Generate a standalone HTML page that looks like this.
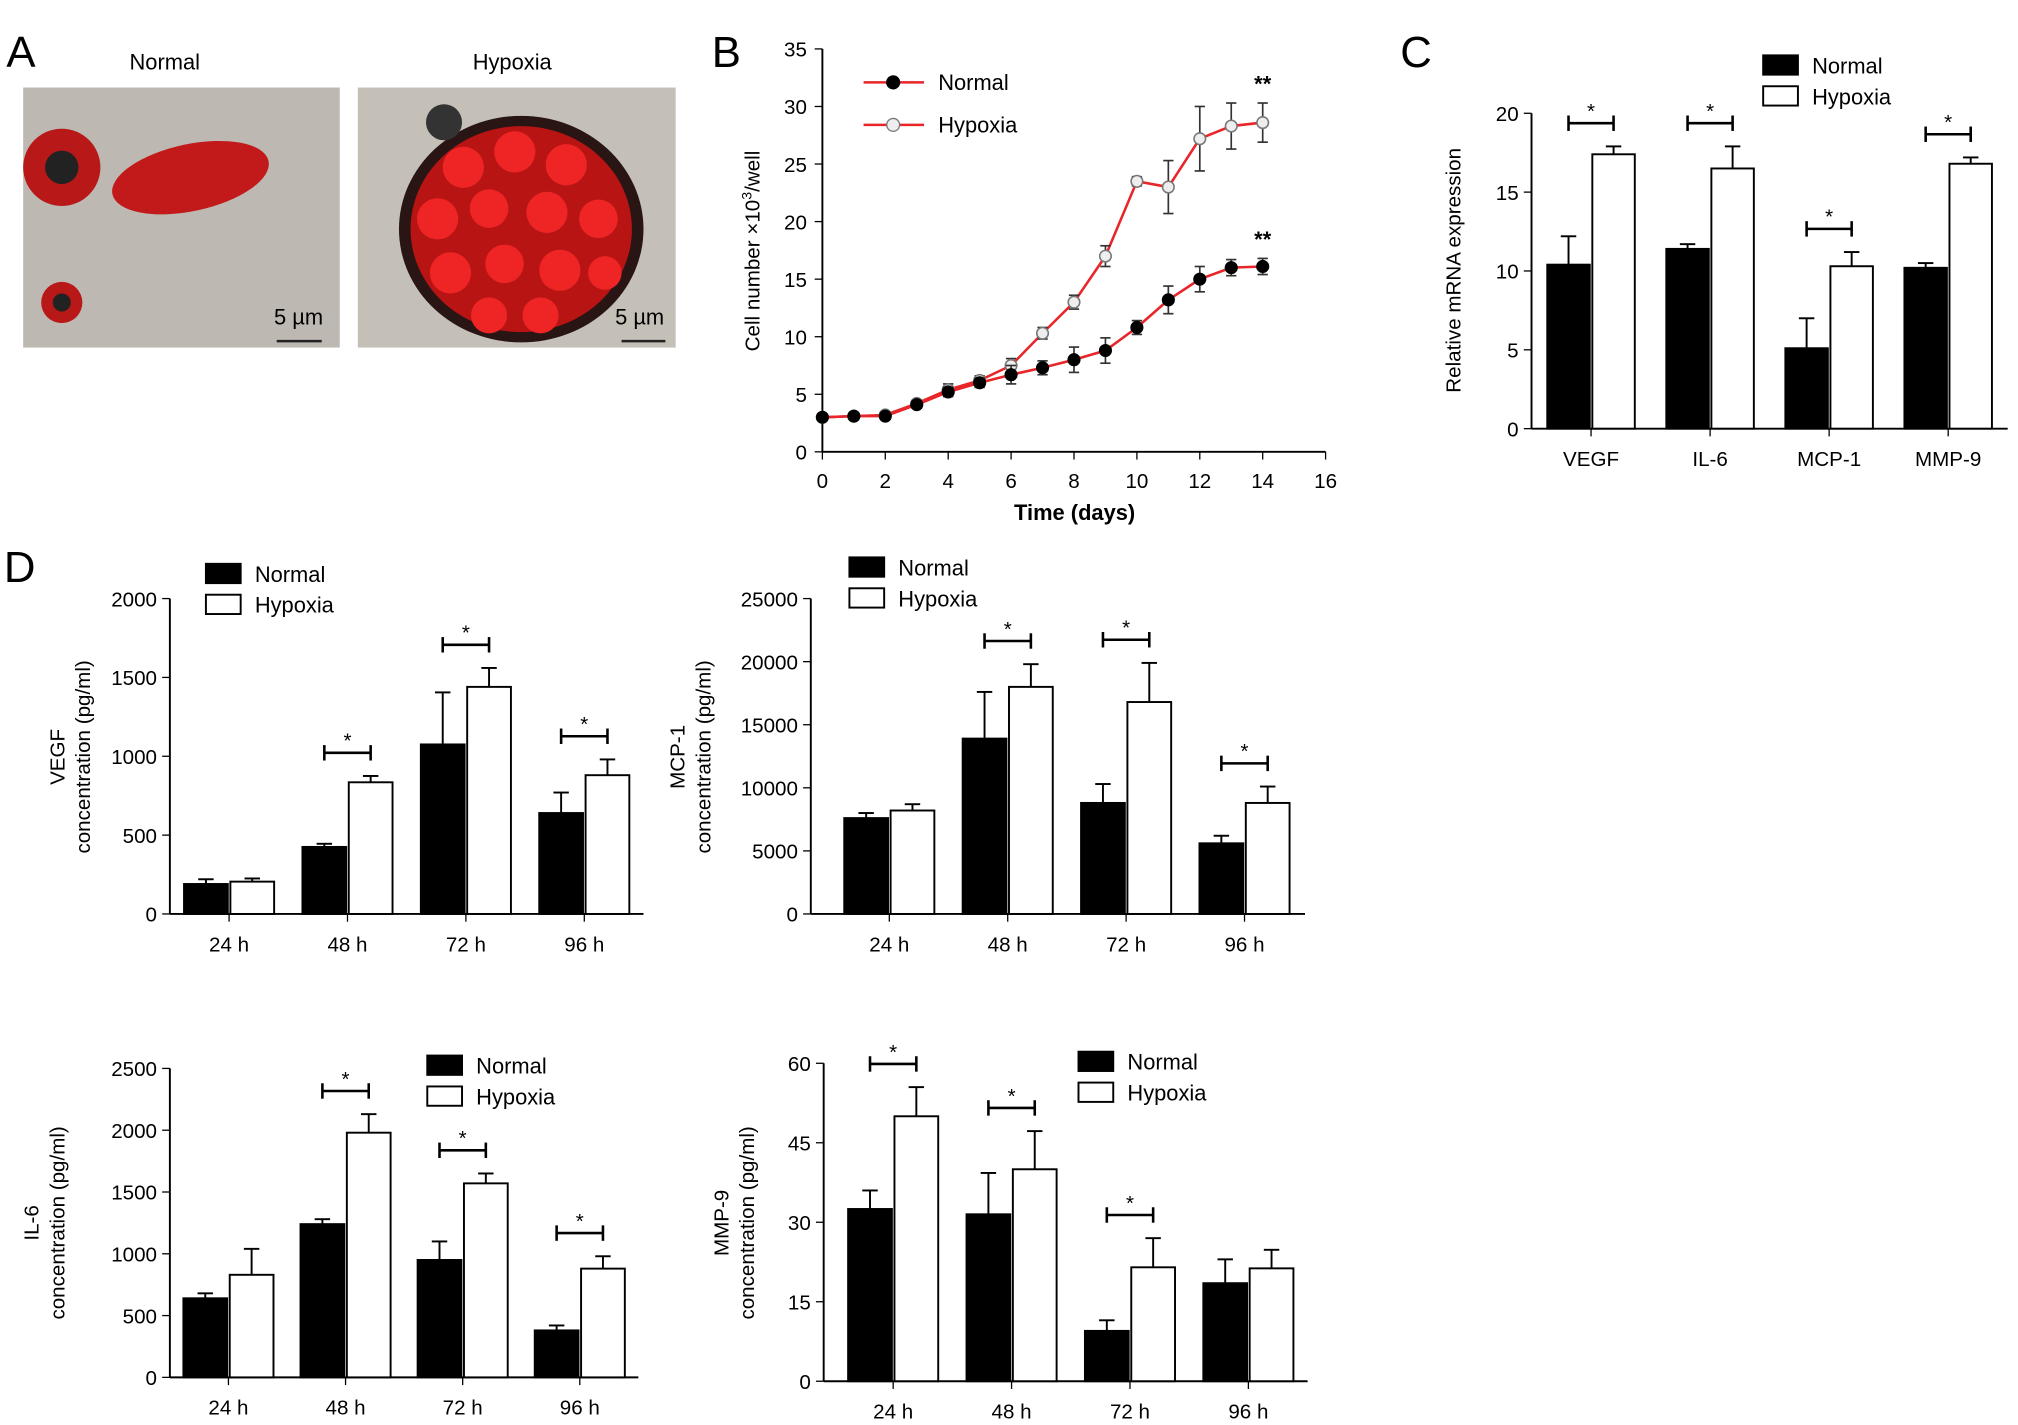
<!DOCTYPE html>
<html><head><meta charset="utf-8"><style>
html,body{margin:0;padding:0;background:#fff;}
svg{display:block;font-family:"Liberation Sans",Arial,sans-serif;}
</style></head><body>
<svg id="fig" width="2018" height="1425" viewBox="0 0 1568 1107" preserveAspectRatio="none" xmlns="http://www.w3.org/2000/svg">
<rect width="1568" height="1107" fill="#fff"/>
<g>
<text x="5" y="52" font-size="34">A</text>
<text x="128" y="54" font-size="17" text-anchor="middle">Normal</text>
<text x="398" y="54" font-size="17" text-anchor="middle">Hypoxia</text>
<g>
<rect x="18" y="68" width="246" height="202" fill="#bdb9b2"/>
<circle cx="48" cy="130" r="30" fill="#b81818"/><circle cx="48" cy="130" r="13" fill="#222"/>
<ellipse cx="148" cy="138" rx="62" ry="26" fill="#c21a1a" transform="rotate(-12 148 138)"/>
<circle cx="48" cy="235" r="16" fill="#b81818"/><circle cx="48" cy="235" r="7" fill="#222"/>
<line x1="215" y1="265" x2="250" y2="265" stroke="#222" stroke-width="2"/>
<text x="232" y="252" font-size="17" text-anchor="middle">5 µm</text>
</g>
<g>
<rect x="278" y="68" width="247" height="202" fill="#c4c0b8"/>
<ellipse cx="405" cy="178" rx="95" ry="88" fill="#2a1515"/>
<ellipse cx="405" cy="178" rx="86" ry="80" fill="#b81414"/>
<g fill="#ef2525">
<circle cx="360" cy="130" r="16"/><circle cx="400" cy="118" r="16"/><circle cx="440" cy="128" r="16"/>
<circle cx="340" cy="170" r="16"/><circle cx="380" cy="162" r="15"/><circle cx="425" cy="165" r="16"/><circle cx="465" cy="170" r="15"/>
<circle cx="350" cy="212" r="16"/><circle cx="392" cy="205" r="15"/><circle cx="435" cy="210" r="16"/><circle cx="470" cy="212" r="13"/>
<circle cx="380" cy="245" r="14"/><circle cx="420" cy="245" r="14"/>
</g>
<circle cx="345" cy="95" r="14" fill="#333"/>
<line x1="483" y1="265" x2="517" y2="265" stroke="#222" stroke-width="2"/>
<text x="497" y="252" font-size="17" text-anchor="middle">5 µm</text>
</g>
</g>
<text x="553" y="52" font-size="34">B</text>
<text x="1088" y="52" font-size="34">C</text>
<text x="3" y="452" font-size="34">D</text>
<g id="gB"></g>
<g id="gC"></g>
<g id="gD1"></g>
<g id="gD2"></g>
<g id="gD3"></g>
<g id="gD4"></g>
</svg>
<script>
const NS="http://www.w3.org/2000/svg";
const daysB=[0,1,2,3,4,5,6,7,8,9,10,11,12,13,14];
const normalB=[3,3.1,3.1,4.1,5.2,6,6.7,7.3,8,8.8,10.8,13.2,15,16,16.1];
const normalBErr=[0.2,0.2,0.2,0.3,0.4,0.4,0.8,0.6,1.1,1.1,0.6,1.2,1.1,0.7,0.7];
const hypoxiaB=[3,3.1,3.2,4.2,5.4,6.2,7.5,10.3,13,17,23.5,23,27.2,28.3,28.6];
const hypoxiaBErr=[0.2,0.2,0.2,0.3,0.5,0.4,0.6,0.5,0.6,0.9,0.4,2.3,2.8,2,1.7];
const ticksBX=[0,2,4,6,8,10,12,14,16];
const ticksBY=[0,5,10,15,20,25,30,35];
const catsC=["VEGF","IL-6","MCP-1","MMP-9"];
const normalC=[10.4,11.4,5.1,10.2];
const normalCErr=[1.8,0.3,1.9,0.3];
const hypoxiaC=[17.4,16.5,10.3,16.8];
const hypoxiaCErr=[0.5,1.4,0.9,0.4];
const starsC=[1,1,1,1];
const ticksCY=[0,5,10,15,20];
const catsD=["24 h","48 h","72 h","96 h"];
const vegfN=[190,425,1075,640], vegfNErr=[30,20,330,130];
const vegfH=[205,835,1440,880], vegfHErr=[20,40,120,100];
const vegfStars=[0,1,1,1], vegfTicks=[0,500,1000,1500,2000];
const mcpN=[7600,13900,8800,5600], mcpNErr=[400,3700,1500,600];
const mcpH=[8200,18000,16800,8800], mcpHErr=[500,1800,3100,1300];
const mcpStars=[0,1,1,1], mcpTicks=[0,5000,10000,15000,20000,25000];
const il6N=[640,1240,950,380], il6NErr=[40,40,150,40];
const il6H=[830,1980,1570,880], il6HErr=[210,150,80,100];
const il6Stars=[0,1,1,1], il6Ticks=[0,500,1000,1500,2000,2500];
const mmpN=[32.5,31.5,9.5,18.5], mmpNErr=[3.5,7.8,2,4.5];
const mmpH=[50,40,21.5,21.3], mmpHErr=[5.5,7.2,5.5,3.5];
const mmpStars=[1,1,1,0], mmpTicks=[0,15,30,45,60];

function el(p,tag,at,txt){const e=document.createElementNS(NS,tag);for(const k in at)e.setAttribute(k,at[k]);if(txt!==undefined)e.textContent=txt;p.appendChild(e);return e;}

(function(){
const g=document.getElementById('gB');
const x0=639,x1=1030,y0=351,y1=38;
const sx=v=>x0+(v-0)/16*(x1-x0), sy=v=>y0-v/35*(y0-y1);
el(g,'line',{x1:x0,y1:y0,x2:x1,y2:y0,stroke:'#000','stroke-width':1.5});
el(g,'line',{x1:x0,y1:y0,x2:x0,y2:y1,stroke:'#000','stroke-width':1.5});
ticksBX.forEach(t=>{el(g,'line',{x1:sx(t),y1:y0,x2:sx(t),y2:y0+6,stroke:'#000'});const e=el(g,'text',{x:sx(t),y:y0+28,'font-size':16,'text-anchor':'middle'},t);

});
ticksBY.forEach(t=>{el(g,'line',{x1:x0-6,y1:sy(t),x2:x0,y2:sy(t),stroke:'#000'});const e=el(g,'text',{x:x0-12,y:sy(t)+6,'font-size':16,'text-anchor':'end'},t);

});
const xt=el(g,'text',{x:835,y:404,'font-size':17,'font-weight':'bold','text-anchor':'middle'},'Time (days)');


const yt=el(g,'text',{x:0,y:0,'font-size':16,'text-anchor':'middle',transform:'translate(590,195) rotate(-90)'});
yt.innerHTML='Cell number ×10<tspan dy="-6" font-size="11">3</tspan><tspan dy="6">/well</tspan>';


function series(vals,errs,fill,name){
 const pts=vals.map((v,i)=>sx(daysB[i])+','+sy(v)).join(' ');
 const l=el(g,'polyline',{points:pts,fill:'none',stroke:'#e8262a','stroke-width':2});
 
 
 vals.forEach((v,i)=>{const x=sx(daysB[i]);
  el(g,'line',{x1:x,y1:sy(v-errs[i]),x2:x,y2:sy(v+errs[i]),stroke:'#333','stroke-width':1.3});
  el(g,'line',{x1:x-4,y1:sy(v+errs[i]),x2:x+4,y2:sy(v+errs[i]),stroke:'#333','stroke-width':1.3});
  el(g,'line',{x1:x-4,y1:sy(v-errs[i]),x2:x+4,y2:sy(v-errs[i]),stroke:'#333','stroke-width':1.3});
  const c=el(g,'circle',{cx:x,cy:sy(v),r:4.5,fill:fill,stroke:fill=='#000'?'#000':'#777','stroke-width':1.2});
  
  });
}
series(hypoxiaB,hypoxiaBErr,'#eee','hypoxia');
series(normalB,normalBErr,'#000','normal');
el(g,'text',{x:sx(14),y:sy(hypoxiaB[14]+hypoxiaBErr[14])-9,'font-size':17,'font-weight':'bold','text-anchor':'middle'},'**');
el(g,'text',{x:sx(14),y:sy(normalB[14]+normalBErr[14])-9,'font-size':17,'font-weight':'bold','text-anchor':'middle'},'**');
[['Normal','#000',64],['Hypoxia','#eee',97]].forEach(([n,f,y])=>{
 const lg=el(g,'g',{});
 
 
 el(lg,'line',{x1:671,y1:y,x2:718,y2:y,stroke:'#e8262a','stroke-width':2});
 el(lg,'circle',{cx:694,cy:y,r:5,fill:f,stroke:f=='#000'?'#000':'#777'});
 el(lg,'text',{x:729,y:y+6,'font-size':17},n);
});
})();

function barChart(gid,o){
 const g=document.getElementById(gid);
 const sy=v=>o.y0-v/o.max*(o.y0-o.y1);
 el(g,'line',{x1:o.x0,y1:o.y0,x2:o.x1,y2:o.y0,stroke:'#000','stroke-width':1.5});
 el(g,'line',{x1:o.x0,y1:o.y0,x2:o.x0,y2:o.y1,stroke:'#000','stroke-width':1.5});
 o.ticks.forEach(t=>{el(g,'line',{x1:o.x0-6,y1:sy(t),x2:o.x0,y2:sy(t),stroke:'#000'});
  const e=el(g,'text',{x:o.x0-10,y:sy(t)+6,'font-size':16,'text-anchor':'end'},t);
  
  });
 const step=o.step||(o.x1-o.x0)/o.cats.length;
 const first=o.first||(o.x0+step*0.5);
 const bw=o.bw||34;
 o.cats.forEach((c,i)=>{
  const cx=first+step*i;
  el(g,'line',{x1:cx,y1:o.y0,x2:cx,y2:o.y0+6,stroke:'#000'});
  const lt=el(g,'text',{x:cx,y:o.y0+29,'font-size':16,'text-anchor':'middle'},c);
  
  
  [[o.n,o.ne,'#000',cx-bw-1,'normal'],[o.h,o.he,'#fff',cx+1,'hypoxia']].forEach(([v,e,f,x,nm])=>{
   const top=sy(v[i]+e[i]);
   el(g,'line',{x1:x+bw/2,y1:sy(v[i]),x2:x+bw/2,y2:top,stroke:'#000','stroke-width':1.5});
   el(g,'line',{x1:x+bw/2-6,y1:top,x2:x+bw/2+6,y2:top,stroke:'#000','stroke-width':1.5});
   const r=el(g,'rect',{x:x,y:sy(v[i]),width:bw,height:o.y0-sy(v[i]),fill:f,stroke:'#000','stroke-width':1.5});
   
   
  });
  if(o.stars[i]){
   const yy=sy(Math.max(o.n[i]+o.ne[i],o.h[i]+o.he[i]))-18;
   const xa=cx-bw/2-1,xb=cx+bw/2+1;
   el(g,'line',{x1:xa,y1:yy,x2:xb,y2:yy,stroke:'#000','stroke-width':2});
   el(g,'line',{x1:xa,y1:yy-6,x2:xa,y2:yy+6,stroke:'#000','stroke-width':2});
   el(g,'line',{x1:xb,y1:yy-6,x2:xb,y2:yy+6,stroke:'#000','stroke-width':2});
   el(g,'text',{x:cx,y:yy-4,'font-size':16,'text-anchor':'middle'},'*');
  }
 });
 const yt=el(g,'text',{x:0,y:0,'font-size':16,'text-anchor':'middle',transform:`translate(${o.tx},${o.ty}) rotate(-90)`});
 o.title.forEach((t,k)=>el(yt,'tspan',{x:0,dy:k?20:0},t));
 
 
 [['Normal','#000',0],['Hypoxia','#fff',24]].forEach(([n,f,d])=>{
  const lg=el(g,'g',{});
  
  
  el(lg,'rect',{x:o.lx,y:o.ly+d-8,width:27,height:15,fill:f,stroke:'#000','stroke-width':1.5});
  el(lg,'text',{x:o.lx+38,y:o.ly+d+6,'font-size':17},n);
 });
}
barChart('gC',{x0:1190,x1:1560,y0:333,y1:88,max:20,ticks:ticksCY,cats:catsC,n:normalC,ne:normalCErr,h:hypoxiaC,he:hypoxiaCErr,stars:starsC,title:['Relative mRNA expression'],tx:1135,ty:210,lx:1370,ly:51,bw:33});
barChart('gD1',{x0:132,x1:500,y0:710,y1:465,max:2000,ticks:vegfTicks,cats:catsD,n:vegfN,ne:vegfNErr,h:vegfH,he:vegfHErr,stars:vegfStars,title:['VEGF','concentration (pg/ml)'],tx:50,ty:588,lx:160,ly:446});
barChart('gD2',{x0:630,x1:1014,y0:710,y1:465,max:25000,ticks:mcpTicks,cats:catsD,n:mcpN,ne:mcpNErr,h:mcpH,he:mcpHErr,stars:mcpStars,title:['MCP-1','concentration (pg/ml)'],tx:532,ty:588,lx:660,ly:441,first:691,step:92});
barChart('gD3',{x0:132,x1:496,y0:1070,y1:830,max:2500,ticks:il6Ticks,cats:catsD,n:il6N,ne:il6NErr,h:il6H,he:il6HErr,stars:il6Stars,title:['IL-6','concentration (pg/ml)'],tx:30,ty:950,lx:332,ly:828});
barChart('gD4',{x0:640,x1:1016,y0:1073,y1:826,max:60,ticks:mmpTicks,cats:catsD,n:mmpN,ne:mmpNErr,h:mmpH,he:mmpHErr,stars:mmpStars,title:['MMP-9','concentration (pg/ml)'],tx:566,ty:950,lx:838,ly:825,first:694,step:92});
</script>
</body></html>
